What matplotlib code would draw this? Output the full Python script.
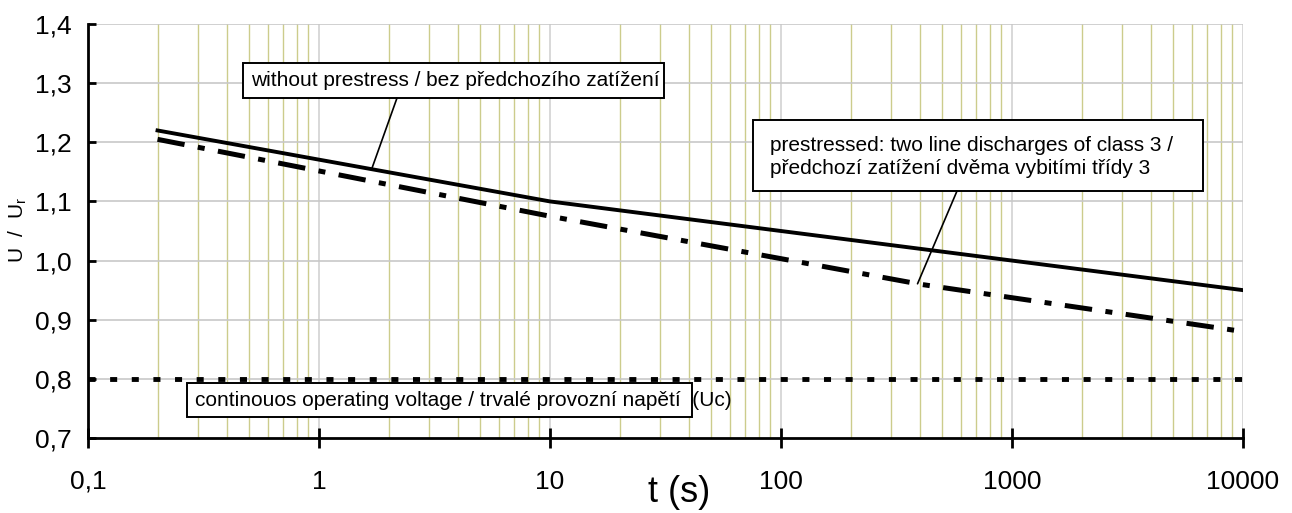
#!/usr/bin/env python

import math
import matplotlib
matplotlib.use('Agg')
import matplotlib.pyplot as plt
from matplotlib.patches import Rectangle
from matplotlib.ticker import FixedLocator, NullFormatter


# ==================================================================
# data
t_plain = [0.2, 10, 100, 1000, 10000]
u_plain = [1.22, 1.10, 1.05, 1.00, 0.95]

t_prestressed = [0.2, 10, 400, 10000]
u_prestressed = [1.205, 1.075, 0.96, 0.88]

t_uc = [0.1, 10000]
u_uc = [0.8, 0.8]

x_ticks = [0.1, 1, 10, 100, 1000, 10000]
x_labels = ['0,1', '1', '10', '100', '1000', '10000']
y_ticks = [0.7, 0.8, 0.9, 1.0, 1.1, 1.2, 1.3, 1.4]
y_labels = ['0,7', '0,8', '0,9', '1,0', '1,1', '1,2', '1,3', '1,4']

label_plain = 'without prestress / bez předchozího zatížení'
label_prestressed = ('prestressed: two line discharges of class 3 /\n'
                     'předchozí zatížení dvěma vybitími třídy 3')
label_uc = 'continouos operating voltage / trvalé provozní napětí  (Uc)'

plt.rcParams['font.family'] = ['Liberation Sans', 'DejaVu Sans']


# ==================================================================
def interp_log(ts, us, t):
    """ valor de la curva en t (interpolacion en escala log) """
    for i in range(len(ts) - 1):
        if ts[i] <= t <= ts[i + 1]:
            f = (math.log10(t) - math.log10(ts[i])) / \
                (math.log10(ts[i + 1]) - math.log10(ts[i]))
            return us[i] + f * (us[i + 1] - us[i])
    return us[-1]


def px_to_axes(px, py):
    """ pixeles de la imagen -> fraccion de ejes """
    return (px - 88) / 1155.0, (438 - py) / 414.0


def box(ax, x0, y0, x1, y1):
    """ rectangulo blanco con borde negro, en pixeles de la imagen """
    bx0, by1 = px_to_axes(x0, y1)
    bx1, by0 = px_to_axes(x1, y0)
    ax.add_patch(Rectangle((bx0, by1), bx1 - bx0, by0 - by1,
                           transform=ax.transAxes, facecolor='white',
                           edgecolor='black', lw=1.4, zorder=4))


def leader(ax, px, py, t, ts, us):
    """ linea desde la caja hasta la curva """
    sx, sy = px_to_axes(px, py)
    ax.annotate('', xy=(t, interp_log(ts, us, t)),
                xytext=(sx, sy), textcoords='axes fraction',
                arrowprops=dict(arrowstyle='-', color='black', lw=1.2,
                                shrinkA=0, shrinkB=0), zorder=5)


fig = plt.figure(figsize=(12.92, 5.13), dpi=100)
ax = fig.add_axes([88 / 1292, 75 / 513, 1155 / 1292, 414 / 513])

ax.set_xscale('log')
ax.set_xlim(0.1, 10000)
ax.set_ylim(0.7, 1.4)

# grid
minor = [m * 10 ** e for e in range(-1, 4) for m in range(2, 10)]
for x in minor:
    ax.axvline(x, color='#cccc8c', lw=1.0, zorder=0)
for x in x_ticks[1:]:
    ax.axvline(x, color='#d2d2d2', lw=1.2, zorder=0)
for y in y_ticks[1:]:
    ax.axhline(y, color='#c8c8c8', lw=1.2, zorder=0)

ax.xaxis.set_major_locator(FixedLocator(x_ticks))
ax.xaxis.set_minor_locator(FixedLocator(minor))
ax.xaxis.set_minor_formatter(NullFormatter())
ax.set_xticklabels(x_labels)
ax.set_yticks(y_ticks)
ax.set_yticklabels(y_labels)

ax.tick_params(axis='x', which='major', direction='inout', length=14,
               width=2, pad=16, labelsize=19)
ax.tick_params(axis='x', which='minor', length=0)
ax.tick_params(axis='y', direction='in', length=6, width=2, pad=12,
               labelsize=19)

for s in ['top', 'right']:
    ax.spines[s].set_visible(False)
for s in ['left', 'bottom']:
    ax.spines[s].set_linewidth(2)

# curves
ax.plot(t_plain, u_plain, color='black', lw=2.8, zorder=3)
ax.plot(t_prestressed, u_prestressed, color='black', lw=3.6, zorder=3,
        dashes=(5.5, 2.7, 1.4, 2.7), dash_capstyle='butt')
ax.plot(t_uc, u_uc, color='black', lw=3.5, zorder=3,
        dashes=(1.45, 3.0), dash_capstyle='butt')

# annotation boxes
box(ax, 243, 63, 664, 98)
tx, ty = px_to_axes(251, 81)
ax.text(tx, ty, label_plain, transform=ax.transAxes, ha='left',
        va='center', fontsize=15, zorder=5)
leader(ax, 397, 98, 1.69, t_plain, u_plain)

box(ax, 753, 120, 1203, 191)
tx, ty = px_to_axes(770, 157)
ax.text(tx, ty, label_prestressed, transform=ax.transAxes, ha='left',
        va='center', fontsize=15, linespacing=1.3, zorder=5)
leader(ax, 957, 191, 390, t_prestressed, u_prestressed)

box(ax, 187, 383, 692, 417)
tx, ty = px_to_axes(195, 400)
ax.text(tx, ty, label_uc, transform=ax.transAxes, ha='left',
        va='center', fontsize=15, zorder=5)

# axis titles
fig.text(648 / 1292, 1 - 492 / 513, 't (s)', ha='left', va='center',
         fontsize=26)
fig.text(18 / 1292, 1 - 230 / 513, r'U  /  U$_\mathregular{r}$',
         rotation=90, ha='center', va='center', fontsize=15)

fig.savefig('out.png', dpi=100)
